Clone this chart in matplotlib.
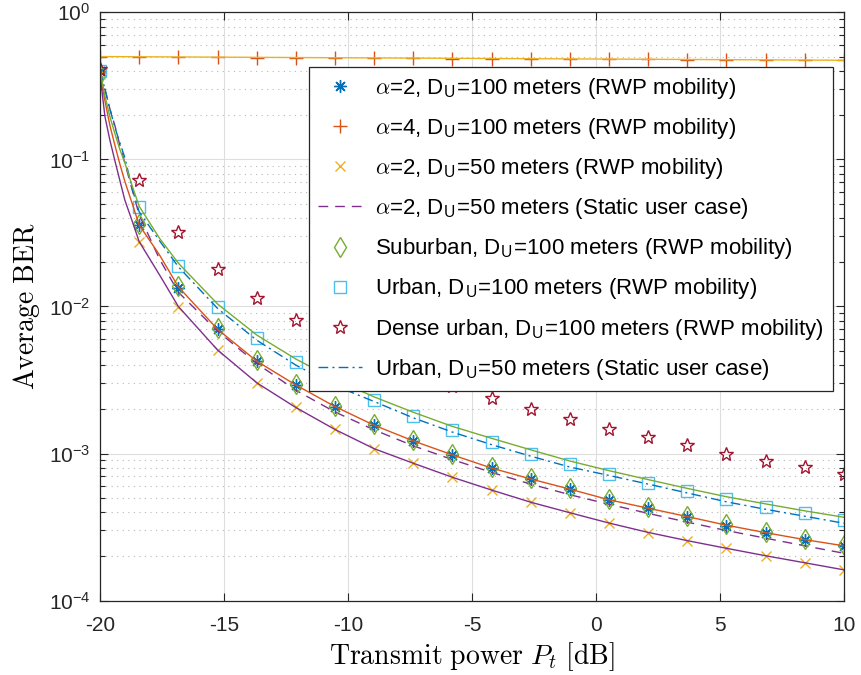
import numpy as np
import matplotlib.pyplot as plt

plt.rcParams['font.family'] = ['Liberation Sans', 'DejaVu Sans']
plt.rcParams['mathtext.fontset'] = 'cm'
plt.rcParams['axes.unicode_minus'] = False

# marker positions (transmit power, dB)
pt = [-20, -18.42, -16.84, -15.26, -13.68, -12.11, -10.53, -8.95, -7.37, -5.79,
      -4.21, -2.63, -1.05, 0.53, 2.11, 3.68, 5.26, 6.84, 8.42, 10]

ber_a2_d100 = [0.40, 0.0358, 0.0134, 0.00703, 0.00426, 0.00293, 0.00208, 0.00156, 0.00122, 0.000977,
               0.000794, 0.000672, 0.000572, 0.000484, 0.000426, 0.000373, 0.000324, 0.000290, 0.000259, 0.000237]
ber_a4_d100 = [0.499, 0.497, 0.495, 0.494, 0.492, 0.490, 0.489, 0.487, 0.486, 0.485,
               0.483, 0.482, 0.481, 0.479, 0.478, 0.477, 0.476, 0.475, 0.474, 0.473]
ber_a2_d50 = [0.38, 0.0276, 0.00997, 0.00506, 0.00303, 0.00206, 0.00146, 0.00108, 0.000859, 0.000690,
              0.000565, 0.000466, 0.000396, 0.000336, 0.000290, 0.000256, 0.000227, 0.000201, 0.000181, 0.000162]
ber_suburban = [0.38, 0.0365, 0.0138, 0.00715, 0.00432, 0.00298, 0.00212, 0.00158, 0.00124, 0.000990,
                0.000808, 0.000685, 0.000580, 0.000492, 0.000434, 0.000378, 0.000330, 0.000294, 0.000263, 0.000240]
ber_urban = [0.40, 0.0472, 0.0187, 0.00997, 0.00614, 0.00418, 0.00305, 0.00231, 0.00180, 0.00145,
             0.00120, 0.00100, 0.000849, 0.000727, 0.000631, 0.000554, 0.000491, 0.000435, 0.000393, 0.000354]
ber_dense = [0.41, 0.0724, 0.0319, 0.0180, 0.0115, 0.00809, 0.0061, 0.0047, 0.0037, 0.0029,
             0.00237, 0.00200, 0.00171, 0.00147, 0.00129, 0.00114, 0.00100, 0.000895, 0.000807, 0.000723]

# curve positions (denser near -20 dB)
pt_line = [-20, -19.8, -19.6, -19.4, -19.2, -19.0, -18.7, -18.42, -17.6, -16.84, -15.26, -13.68, -12.11,
           -10.53, -8.95, -7.37, -5.79, -4.21, -2.63, -1.05, 0.53, 2.11, 3.68, 5.26, 6.84, 8.42, 10]
th_a2_d100 = [0.39, 0.25, 0.17, 0.125, 0.093, 0.071, 0.050, 0.0358, 0.0224, 0.0136, 0.00700, 0.00425, 0.00293,
              0.00209, 0.00156, 0.00122, 0.000980, 0.000797, 0.000672, 0.000573, 0.000485, 0.000425, 0.000373,
              0.000326, 0.000290, 0.000260, 0.000236]
th_a2_d50 = [0.38, 0.195, 0.135, 0.098, 0.072, 0.053, 0.038, 0.0276, 0.0164, 0.0100, 0.00506, 0.00303, 0.00206,
             0.00146, 0.00108, 0.000860, 0.000690, 0.000565, 0.000467, 0.000396, 0.000337, 0.000291, 0.000256,
             0.000227, 0.000202, 0.000181, 0.000162]
th_urban = [0.40, 0.27, 0.195, 0.150, 0.117, 0.095, 0.066, 0.048, 0.0291, 0.0197, 0.0104, 0.0064, 0.0044,
            0.0032, 0.00243, 0.00191, 0.00153, 0.00127, 0.00106, 0.00089, 0.000765, 0.000665, 0.000580,
            0.000509, 0.000455, 0.000408, 0.000369]
st_a2_d50 = [0.39, 0.30, 0.22, 0.17, 0.125, 0.095, 0.062, 0.042, 0.021, 0.0125, 0.0068, 0.0041, 0.0027,
             0.00192, 0.00145, 0.00113, 0.000910, 0.000745, 0.000620, 0.000525, 0.000452, 0.000392, 0.000342,
             0.000300, 0.000266, 0.000236, 0.000210]
st_urban_d50 = [0.40, 0.30, 0.22, 0.165, 0.13, 0.103, 0.063, 0.044, 0.028, 0.0186, 0.0097, 0.0059, 0.0040,
                0.0029, 0.00226, 0.00175, 0.00140, 0.00115, 0.00096, 0.00081, 0.00071, 0.00062, 0.00054,
                0.00047, 0.000418, 0.000375, 0.000336]
th_a4_d100 = [0.500, 0.472]
pt_a4 = [-20, 10]

labels = [r'$\alpha$=2, D$_\mathregular{U}$=100 meters (RWP mobility)',
          r'$\alpha$=4, D$_\mathregular{U}$=100 meters (RWP mobility)',
          r'$\alpha$=2, D$_\mathregular{U}$=50 meters (RWP mobility)',
          r'$\alpha$=2, D$_\mathregular{U}$=50 meters (Static user case)',
          r'Suburban, D$_\mathregular{U}$=100 meters (RWP mobility)',
          r'Urban, D$_\mathregular{U}$=100 meters (RWP mobility)',
          r'Dense urban, D$_\mathregular{U}$=100 meters (RWP mobility)',
          r'Urban, D$_\mathregular{U}$=50 meters (Static user case)']

c_blue = (0, 0.447, 0.741)
c_orange = (0.850, 0.325, 0.098)
c_yellow = (0.929, 0.694, 0.125)
c_purple = (0.494, 0.184, 0.556)
c_green = (0.466, 0.674, 0.188)
c_lblue = (0.301, 0.745, 0.933)
c_red = (0.635, 0.078, 0.184)
dark = (0.15, 0.15, 0.15)

fig = plt.figure(figsize=(8.62, 6.75), dpi=100)
ax = fig.add_axes([0.1160, 0.1101, 0.8631, 0.8717])

lw = 1.0
h1, = ax.semilogy(pt, ber_a2_d100, ls='none', marker=(8, 2, 0), ms=9, mew=lw, color=c_blue)
h2, = ax.semilogy(pt, ber_a4_d100, ls='none', marker='+', ms=10, mew=lw, color=c_orange)
h3, = ax.semilogy(pt, ber_a2_d50, ls='none', marker='x', ms=7, mew=lw, color=c_yellow)
h4, = ax.semilogy(pt_line, st_a2_d50, ls=(0, (7, 5)), lw=lw, color=c_purple)
h5, = ax.semilogy(pt, ber_suburban, ls='none', marker='d', ms=10.5, mew=lw, mfc='none', color=c_green)
h6, = ax.semilogy(pt, ber_urban, ls='none', marker='s', ms=8, mew=lw, mfc='none', color=c_lblue)
h7, = ax.semilogy(pt, ber_dense, ls='none', marker='*', ms=10.5, mew=lw, mfc='none', color=c_red)
h8, = ax.semilogy(pt_line, st_urban_d50, ls=(0, (7, 3, 1.5, 3)), lw=lw, color=c_blue)

# analytical curves
ax.semilogy(pt_line, th_a2_d100, '-', lw=lw, color=c_orange)
ax.semilogy(pt_line, th_a2_d50, '-', lw=lw, color=c_purple)
ax.semilogy(pt_line, th_urban, '-', lw=lw, color=c_green)
ax.semilogy(pt_a4, th_a4_d100, '-', lw=lw, color=c_yellow)

ax.set_xlim(-20, 10)
ax.set_ylim(1e-4, 1)
ax.set_xticks([-20, -15, -10, -5, 0, 5, 10])
ax.set_xticklabels(['-20', '-15', '-10', '-5', '0', '5', '10'])
ax.set_yticks([1e-4, 1e-3, 1e-2, 1e-1, 1])
ax.set_yticklabels([r'$\mathregular{10^{-4}}$', r'$\mathregular{10^{-3}}$', r'$\mathregular{10^{-2}}$',
                    r'$\mathregular{10^{-1}}$', r'$\mathregular{10^{0}}$'])
ax.yaxis.set_minor_locator(plt.matplotlib.ticker.LogLocator(base=10, subs=np.arange(2, 10), numticks=20))
ax.yaxis.set_minor_formatter(plt.NullFormatter())

ax.tick_params(which='both', direction='in', top=True, right=True, colors=dark, labelsize=15)
ax.tick_params(which='major', length=6, width=0.8)
ax.tick_params(which='minor', length=3.5, width=0.8)
ax.tick_params(axis='x', pad=11)
ax.tick_params(axis='y', pad=7)
for s in ax.spines.values():
    s.set_color(dark)
    s.set_linewidth(0.9)

ax.grid(True, which='major', color=(0.87, 0.87, 0.87), lw=0.8, ls='-')
ax.grid(True, which='minor', axis='y', color=(0.72, 0.72, 0.72), lw=0.8, ls=(0, (1, 4)))
ax.set_axisbelow(True)

ax.set_xlabel(r'$\mathrm{Transmit\ power}\ P_t\ \mathrm{[dB]}$', fontsize=20, color='black', labelpad=4)
ax.set_ylabel(r'$\mathrm{Average\ BER}$', fontsize=20, color='black', labelpad=5)

leg = ax.legend([h1, h2, h3, h4, h5, h6, h7, h8], labels, loc='upper left',
                bbox_to_anchor=(0.281, 0.907), fontsize=16, frameon=True, fancybox=False,
                framealpha=1, edgecolor=dark, handlelength=2.0, handletextpad=0.57,
                borderpad=0.4, labelspacing=0.68, borderaxespad=0)
leg.get_frame().set_linewidth(0.9)

fig.savefig('out.png', dpi=100)
